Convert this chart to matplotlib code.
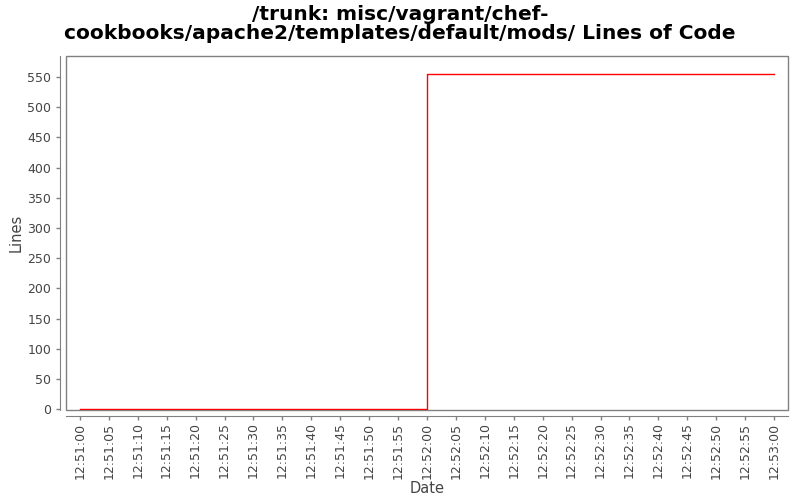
import numpy as np
import matplotlib
matplotlib.use("Agg")
import matplotlib.pyplot as plt
import matplotlib.dates as mdates
from matplotlib.patches import Rectangle
from datetime import datetime, timedelta

# data
dates = [datetime(2000, 1, 1, 12, 51, 0), datetime(2000, 1, 1, 12, 52, 0), datetime(2000, 1, 1, 12, 53, 0)]
lines = [0, 556, 556]
yticks = np.arange(0, 551, 50)
xticks = [datetime(2000, 1, 1, 12, 51, 0) + timedelta(seconds=5 * i) for i in range(25)]

fig = plt.figure(figsize=(8, 5), dpi=100)
ax = fig.add_axes([66 / 800, 1 - 410 / 500, (788 - 66) / 800, (410 - 56) / 500])

ax.plot(dates, lines, color="#ff0000", lw=1, drawstyle="steps-post")

ax.set_xlim(dates[0] - timedelta(seconds=2.4), dates[-1] + timedelta(seconds=2.4))
ax.set_ylim(-1.6, 585)
ax.set_yticks(yticks)
ax.set_xticks(xticks)
ax.xaxis.set_major_formatter(mdates.DateFormatter("%H:%M:%S"))
ax.tick_params(axis="x", labelrotation=90, pad=2)

gray = "#808080"
for s in ["top", "right"]:
    ax.spines[s].set_visible(False)
for s in ["left", "bottom"]:
    ax.spines[s].set_position(("outward", 4))
    ax.spines[s].set_color(gray)
ax.add_patch(Rectangle((0, 0), 1, 1, transform=ax.transAxes, fill=False,
                       edgecolor=gray, lw=1, clip_on=False))
ax.tick_params(colors=gray, labelcolor="#444444", labelsize=9, length=3, width=1)

ax.set_xlabel("Date", fontsize=10.5, color="#444444", labelpad=2)
ax.set_ylabel("Lines", fontsize=10.5, color="#444444", labelpad=3)
fig.suptitle("/trunk: misc/vagrant/chef-\ncookbooks/apache2/templates/default/mods/ Lines of Code",
             fontsize=14.5, fontweight="bold", y=0.99, linespacing=1.0)

fig.savefig("out.png", dpi=100)
